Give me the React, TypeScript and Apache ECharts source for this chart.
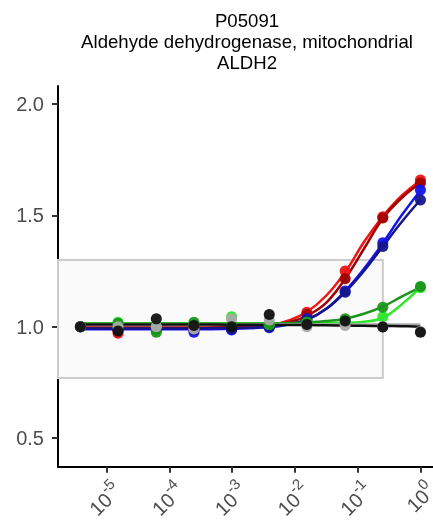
import React, { useEffect, useRef } from "react";
import * as echarts from "echarts";

// log10 of concentration (4-fold dilution series)
const LOG_CONC = [-5.42, -4.82, -4.21, -3.61, -3.01, -2.41, -1.81, -1.2, -0.6, 0];

const RED_PTS = [1.0, 0.97, 0.99, 0.99, 0.99, 1.0, 1.065, 1.25, 1.494, 1.659];
const DARKRED_PTS = [1.0, 0.985, 0.99, 0.99, 0.992, 1.0, 1.055, 1.215, 1.488, 1.645];
const BLUE_PTS = [1.0, 0.99, 0.99, 0.975, 0.985, 0.995, 1.035, 1.16, 1.377, 1.614];
const DARKBLUE_PTS = [1.0, 0.99, 0.99, 0.985, 0.99, 1.0, 1.03, 1.155, 1.36, 1.569];
const LIME_PTS = [1.0, 1.02, 1.0, 1.01, 1.045, 1.01, 1.02, 1.02, 1.045, 1.175];
const DARKGREEN_PTS = [1.0, 1.015, 0.975, 1.02, 1.01, 1.01, 1.02, 1.035, 1.087, 1.18];
const GRAY_PTS = [1.0, 1.0, 1.0, 0.99, 1.035, 1.03, 1.0, 1.005, 1.0, 0.978];
const BLACK_PTS = [1.0, 0.98, 1.035, 1.005, 1.0, 1.055, 1.01, 1.025, 0.998, 0.975];

// fitted curves
const CURVE_X = [-5.42, -3.6, -3.0, -2.4, -2.1, -1.8, -1.5, -1.2, -0.9, -0.6, -0.3, 0];
const RED_FIT = [0.993, 0.993, 0.995, 1.006, 1.028, 1.068, 1.14, 1.245, 1.38, 1.495, 1.588, 1.657];
const DARKRED_FIT = [0.996, 0.996, 0.998, 1.005, 1.02, 1.05, 1.108, 1.215, 1.35, 1.486, 1.578, 1.645];
const BLUE_FIT = [0.988, 0.988, 0.991, 0.998, 1.01, 1.032, 1.08, 1.16, 1.26, 1.375, 1.5, 1.612];
const DARKBLUE_FIT = [0.992, 0.992, 0.994, 1.0, 1.012, 1.033, 1.08, 1.155, 1.25, 1.36, 1.47, 1.57];
const LIME_FIT = [1.015, 1.015, 1.015, 1.015, 1.015, 1.015, 1.016, 1.017, 1.022, 1.04, 1.1, 1.175];
const DARKGREEN_FIT = [1.013, 1.013, 1.013, 1.014, 1.016, 1.019, 1.025, 1.036, 1.058, 1.09, 1.135, 1.178];
const GRAY_FIT = [1.01, 1.01, 1.01, 1.01, 1.01, 1.01, 1.01, 1.01, 1.01, 1.01, 1.01, 1.01];
const BLACK_FIT = [1.01, 1.01, 1.009, 1.008, 1.008, 1.007, 1.006, 1.005, 1.004, 1.003, 1.002, 1.0];

const SERIES_NAMES = ["rep1", "rep2", "rep3", "rep4", "rep5", "rep6", "rep7", "rep8"];
const COLORS = ["#f01414", "#a00000", "#1414f0", "#16168a", "#2ee62e", "#1a961a", "#aaaaaa", "#111111"];
const POINTS = [RED_PTS, DARKRED_PTS, BLUE_PTS, DARKBLUE_PTS, LIME_PTS, DARKGREEN_PTS, GRAY_PTS, BLACK_PTS];
const FITS = [RED_FIT, DARKRED_FIT, BLUE_FIT, DARKBLUE_FIT, LIME_FIT, DARKGREEN_FIT, GRAY_FIT, BLACK_FIT];

const X_TICKS = [-5, -4, -3, -2, -1, 0];
const Y_TICKS = [0.5, 1.0, 1.5, 2.0];
const X_MIN = -5.777;
const X_MAX = 0.2;
const Y_MIN = 0.371;
const Y_MAX = 2.081;

// window of "no change"
const BAND_X_RIGHT = -0.6;
const BAND_Y = [1.3, 1 / 1.3];

const TITLE = "P05091\nAldehyde dehydrogenase, mitochondrial\nALDH2";

const FONT = "'Liberation Sans', Arial, Helvetica, sans-serif";

export default function App() {
  const ref = useRef<HTMLDivElement>(null);
  useEffect(() => {
    if (!ref.current) return;
    const chart = echarts.init(ref.current, null, { renderer: "svg" });
    const series: any[] = [];
    series.push({
      type: "line",
      data: [],
      z: 1,
      silent: true,
      markArea: {
        silent: true,
        itemStyle: { color: "#fafafa", borderColor: "#cccccc", borderWidth: 2 },
        data: [[{ coord: [X_MIN, BAND_Y[0]] }, { coord: [BAND_X_RIGHT, BAND_Y[1]] }]],
      },
    });
    SERIES_NAMES.forEach((name, i) => {
      series.push({
        name: name + " fit",
        type: "line",
        smooth: 0.4,
        showSymbol: false,
        symbol: "none",
        z: 2 + i * 0.01,
        lineStyle: { color: COLORS[i], width: 2.5 },
        data: CURVE_X.map((x, j) => [x, FITS[i][j]]),
      });
    });
    SERIES_NAMES.forEach((name, i) => {
      series.push({
        name,
        type: "scatter",
        symbolSize: 11,
        z: 3 + i * 0.01,
        itemStyle: { color: COLORS[i], opacity: 0.95 },
        data: LOG_CONC.map((x, j) => [x, POINTS[i][j]]),
      });
    });
    chart.setOption({
      animation: false,
      textStyle: { fontFamily: FONT },
      title: {
        text: TITLE,
        left: 242,
        top: 5,
        textAlign: "center",
        textStyle: { fontFamily: FONT, fontSize: 18.6, fontWeight: "normal", color: "#000", lineHeight: 21 },
      },
      grid: { left: 58, top: 86, right: 0, bottom: 59.3, outerBoundsMode: "none", containLabel: false },
      xAxis: {
        type: "value",
        min: X_MIN,
        max: X_MAX,
        axisLine: { show: true, onZero: false, lineStyle: { color: "#000", width: 2 } },
        axisTick: { show: true, length: 6, customValues: X_TICKS, lineStyle: { color: "#333", width: 2 } },
        splitLine: { show: false },
        axisLabel: {
          customValues: X_TICKS,
          rotate: 45,
          margin: 9,
          align: "right",
          verticalAlign: "top",
          formatter: (v: number) => `{b|10}{s|${v}}`,
          rich: {
            b: { fontSize: 20, color: "#4d4d4d", fontFamily: FONT, lineHeight: 26, verticalAlign: "bottom" },
            s: { fontSize: 15, color: "#4d4d4d", fontFamily: FONT, lineHeight: 15, verticalAlign: "top" },
          },
        },
      },
      yAxis: {
        type: "value",
        min: Y_MIN,
        max: Y_MAX,
        axisLine: { show: true, onZero: false, lineStyle: { color: "#000", width: 2 } },
        axisTick: { show: true, length: 6, customValues: Y_TICKS, lineStyle: { color: "#333", width: 2 } },
        splitLine: { show: false },
        axisLabel: {
          customValues: Y_TICKS,
          margin: 14,
          fontSize: 20,
          color: "#4d4d4d",
          fontFamily: FONT,
          formatter: (v: number) => v.toFixed(1),
        },
      },
      series,
    });
    return () => chart.dispose();
  }, []);
  return <div ref={ref} style={{ position: "fixed", left: 0, top: 0, width: 433, height: 526 }} />;
}
